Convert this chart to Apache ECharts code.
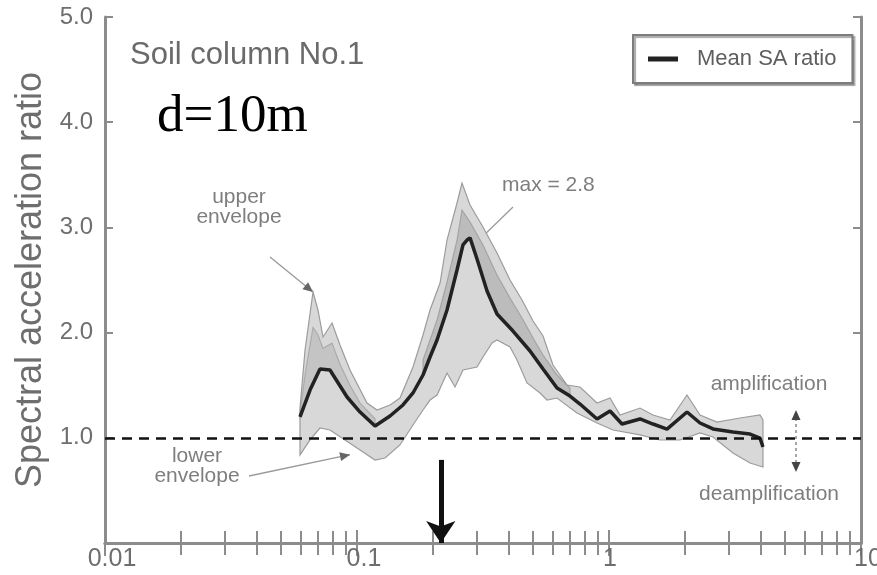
<!DOCTYPE html>
<html>
<head>
<meta charset="utf-8">
<script src="https://cdn.jsdelivr.net/npm/echarts@6/dist/echarts.min.js"></script>
<style>
html,body{margin:0;padding:0;background:#fff;}
#chart{width:877px;height:575px;}
</style>
</head>
<body>
<div id="chart"></div>
<script>
// ---- data (x on log axis, spectral acceleration ratio y) ----
const xTickLabels = ['0.01', '0.1', '1', '10'];
const yTickLabels = ['1.0', '2.0', '3.0', '4.0', '5.0'];

const meanSA = [
  [0.0594,1.198],[0.0651,1.454],[0.0713,1.654],[0.0781,1.645],[0.0913,1.388],
  [0.1028,1.245],[0.1179,1.112],[0.1352,1.207],[0.1522,1.312],[0.1668,1.426],
  [0.1828,1.597],[0.1949,1.768],[0.2078,1.930],[0.2276,2.215],[0.2494,2.595],
  [0.2634,2.833],[0.2733,2.880],[0.2809,2.900],[0.2994,2.700],[0.3281,2.395],
  [0.3594,2.177],[0.4159,2.015],[0.4860,1.825],[0.5473,1.654],[0.6219,1.473],
  [0.7003,1.397],[0.7672,1.321],[0.8964,1.179],[1.0093,1.255],[1.1262,1.131],
  [1.3274,1.179],[1.4950,1.131],[1.6990,1.083],[2.0394,1.245],[2.2971,1.141],
  [2.5866,1.084],[3.1053,1.055],[3.6270,1.036],[3.9733,0.998],[4.0836,0.913]
];

const upperEnv = [
  [0.0594,1.283],[0.0622,1.835],[0.0669,2.386],[0.0700,2.215],[0.0733,1.958],
  [0.0796,2.091],[0.0856,1.882],[0.0938,1.645],[0.1096,1.331],[0.1201,1.264],
  [0.1352,1.312],[0.1481,1.378],[0.1668,1.673],[0.1828,1.977],[0.1949,2.215],
  [0.2136,2.471],[0.2276,2.880],[0.2494,3.232],[0.2610,3.422],[0.2809,3.213],
  [0.3162,3.004],[0.3594,2.757],[0.4048,2.500],[0.4517,2.310],[0.4995,2.110],
  [0.5473,1.968],[0.5995,1.692],[0.6813,1.502],[0.7672,1.483],[0.8964,1.331],
  [1.0093,1.378],[1.1058,1.217],[1.3274,1.283],[1.4950,1.217],[1.7466,1.169],
  [2.0394,1.407],[2.2971,1.217],[2.6827,1.150],[3.3108,1.188],[3.9733,1.217],
  [4.0836,1.169]
];

const lowerEnv = [
  [0.0594,0.837],[0.0651,0.980],[0.0713,1.093],[0.0781,1.074],[0.0896,0.979],
  [0.1028,0.884],[0.1179,0.789],[0.1292,0.808],[0.1481,0.932],[0.1668,1.122],
  [0.1828,1.264],[0.1949,1.359],[0.2078,1.407],[0.2276,1.616],[0.2449,1.483],
  [0.2634,1.645],[0.2994,1.673],[0.3162,1.768],[0.3435,1.901],[0.3594,1.930],
  [0.4048,1.863],[0.4314,1.740],[0.4727,1.521],[0.5325,1.426],[0.5675,1.359],
  [0.6219,1.378],[0.7464,1.236],[0.8964,1.141],[1.0372,1.074],[1.3274,1.027],
  [1.5938,0.979],[1.9125,0.979],[2.2971,1.046],[2.5866,1.008],[3.1053,0.856],
  [3.6270,0.760],[4.0836,0.722]
];

// darker band (records crowding above the mean around the main peak)
const denseUpper = [
  [0.1828,1.740],[0.2078,2.120],[0.2276,2.481],[0.2494,2.880],[0.2610,3.165],
  [0.2809,3.051],[0.3162,2.833],[0.3594,2.548],[0.4048,2.329],[0.4517,2.139],
  [0.4995,1.949],[0.5473,1.787],[0.6219,1.597],[0.7003,1.473]
];
// darker band above the mean around the first peak
const denseUpper1 = [
  [0.0594,1.230],[0.0622,1.600],[0.0669,2.050],[0.0700,1.980],[0.0733,1.850],
  [0.0796,1.900],[0.0856,1.700],[0.0938,1.500],[0.1028,1.330],[0.1179,1.180]
];

const referenceLevel = 1.0;
const arrowPeriod = 0.215;

// ---- chart ----
const axisGray = '#8c8c8c';
const txtGray = '#6e6e6e';
const chart = echarts.init(document.getElementById('chart'), null, {renderer: 'canvas'});

const xLabelMap = {};
[0.01, 0.1, 1, 10].forEach((v, i) => { xLabelMap[String(v)] = xTickLabels[i]; });

function xAxisDef(pos, showLabel) {
  return {
    type: 'log', logBase: 10, min: 0.01, max: 10, position: pos,
    gridIndex: 0,
    axisLine: {show: true, lineStyle: {color: axisGray, width: 3}},
    axisTick: {show: true, inside: true, length: 13, lineStyle: {color: axisGray, width: 2}},
    minorTick: {show: true, splitNumber: 9, length: 12, lineStyle: {color: axisGray, width: 2}},
    splitLine: {show: false}, minorSplitLine: {show: false},
    axisLabel: {
      show: showLabel, margin: 4, color: txtGray, fontSize: 25, fontFamily: 'Liberation Sans',
      formatter: v => {
        const t = xLabelMap[String(v)];
        if (t === undefined) return '';
        return t === '1' ? '{n|' + t + '}' : '{s|' + t + '}';
      },
      rich: {
        s: {color: txtGray, fontSize: 25, fontFamily: 'Liberation Sans', padding: [0, 0, 0, 14]},
        n: {color: txtGray, fontSize: 25, fontFamily: 'Liberation Sans', padding: [0, 0, 0, 2]}
      }
    }
  };
}
function yAxisDef(pos, showLabel) {
  return {
    type: 'value', min: 0, max: 5, interval: 1, position: pos, gridIndex: 0,
    axisLine: {show: true, lineStyle: {color: axisGray, width: 3}},
    axisTick: {show: true, inside: true, length: 8, lineStyle: {color: axisGray, width: 2}},
    splitLine: {show: false},
    axisLabel: {
      show: showLabel, margin: 12, color: txtGray, fontSize: 24, fontFamily: 'Liberation Sans',
      formatter: v => (v >= 1 ? yTickLabels[Math.round(v) - 1] : '')
    },
    name: showLabel ? 'Spectral acceleration ratio' : '',
    nameLocation: 'middle', nameGap: 56,
    nameTextStyle: {color: txtGray, fontSize: 36, fontFamily: 'Liberation Sans'}
  };
}

function bandItem(top, bottom, fill, stroke) {
  return function (params, api) {
    if (params.dataIndex !== 0) return;
    const pts = top.map(p => api.coord(p))
      .concat(bottom.slice().reverse().map(p => api.coord(p)));
    return {type: 'polygon', shape: {points: pts}, style: {fill: fill, stroke: stroke, lineWidth: 1.2}};
  };
}

const option = {
  backgroundColor: '#fff',
  animation: false,
  grid: {left: 105, right: 16, top: 17, bottom: 32, containLabel: false, outerBoundsMode: 'none'},
  xAxis: [xAxisDef('bottom', true), xAxisDef('top', false)],
  yAxis: [yAxisDef('left', true), yAxisDef('right', false)],
  legend: {
    show: true, left: 633, top: 35,
    data: ['Mean SA ratio'],
    icon: 'rect', itemWidth: 30, itemHeight: 5,
    padding: [13, 16, 13, 15],
    backgroundColor: '#fff', borderColor: '#7d7d7d', borderWidth: 2,
    shadowColor: 'rgba(0,0,0,0.35)', shadowOffsetX: 2, shadowOffsetY: 2, shadowBlur: 1,
    textStyle: {color: '#5e5e5e', fontSize: 22, fontFamily: 'Liberation Sans', padding: [0, 0, 0, 14]},
    itemStyle: {color: '#222'}
  },
  series: [
    {
      type: 'custom', name: 'envelope', silent: true, z: 1,
      xAxisIndex: 0, yAxisIndex: 0, data: [[1, 1]],
      renderItem: bandItem(upperEnv, lowerEnv, '#d8d8d8', '#9c9c9c')
    },
    {
      type: 'custom', name: 'dense', silent: true, z: 2,
      xAxisIndex: 0, yAxisIndex: 0, data: [[1, 1]],
      renderItem: bandItem(denseUpper, meanSA.slice(10, 26), '#bcbcbc', 'rgba(140,140,140,0.6)')
    },
    {
      type: 'custom', name: 'dense1', silent: true, z: 2,
      xAxisIndex: 0, yAxisIndex: 0, data: [[1, 1]],
      renderItem: bandItem(denseUpper1, meanSA.slice(0, 7), '#c4c4c4', 'rgba(140,140,140,0.5)')
    },
    {
      type: 'line', name: 'Mean SA ratio', z: 3,
      xAxisIndex: 0, yAxisIndex: 0,
      data: meanSA, showSymbol: false, symbol: 'none',
      lineStyle: {color: '#222', width: 3.5}, itemStyle: {color: '#222'},
      markLine: {
        silent: true, animation: false,
        label: {show: false},
        data: [
          [
            {coord: [0.01, referenceLevel], symbol: 'none', lineStyle: {color: '#111', width: 2.5, type: [10, 7]}},
            {coord: [10, referenceLevel], symbol: 'none'}
          ],
          [
            {coord: [arrowPeriod, 0.79], symbol: 'none', lineStyle: {color: '#111', width: 5, type: 'solid'}},
            {coord: [arrowPeriod, 0.0], symbol: 'arrow', symbolSize: [22, 22]}
          ]
        ]
      }
    }
  ],
  graphic: [
    {type: 'text', left: 130, top: 40, style: {text: 'Soil column No.1', fill: '#6a6a6a', font: '31px "Liberation Sans"'}},
    {type: 'text', left: 157, top: 91, style: {text: 'd=10m', fill: '#000', font: '53px "Liberation Serif"'}}
  ]
};
chart.setOption(option);

// ---- annotations anchored to data ----
function px(p) { return chart.convertToPixel({gridIndex: 0}, p); }
function head(x1, y1, x2, y2, s, color) {
  const a = Math.atan2(y2 - y1, x2 - x1);
  const c = Math.cos(a), sn = Math.sin(a);
  return {
    type: 'polygon', silent: true,
    shape: {points: [[x2, y2],
      [x2 - s * c + s * 0.45 * sn, y2 - s * sn - s * 0.45 * c],
      [x2 - s * c - s * 0.45 * sn, y2 - s * sn + s * 0.45 * c]]},
    style: {fill: color}
  };
}
const annGray = '#7e7e7e';
const annFont = '21px "Liberation Sans"';
const upTip = px(upperEnv[2]);
const lowTip = px([0.0938, 0.84]);
const maxEnd = px([0.305, 2.88]);
const g = [];
g.push({type: 'text', x: 239, y: 207, style: {text: 'upper\nenvelope', fill: annGray, font: annFont, align: 'center', verticalAlign: 'middle', lineHeight: 20}});
g.push({type: 'line', shape: {x1: 270, y1: 257, x2: upTip[0], y2: upTip[1]}, style: {stroke: '#9a9a9a', lineWidth: 1.3}});
g.push(head(270, 257, upTip[0], upTip[1], 10, '#666'));
g.push({type: 'text', x: 502, y: 185, style: {text: 'max = 2.8', fill: annGray, font: annFont, align: 'left', verticalAlign: 'middle'}});
g.push({type: 'line', shape: {x1: 513, y1: 207, x2: maxEnd[0], y2: maxEnd[1]}, style: {stroke: '#9a9a9a', lineWidth: 1.3}});
g.push({type: 'text', x: 197, y: 466, style: {text: 'lower\nenvelope', fill: annGray, font: annFont, align: 'center', verticalAlign: 'middle', lineHeight: 20}});
g.push({type: 'line', shape: {x1: 249, y1: 476, x2: lowTip[0], y2: lowTip[1]}, style: {stroke: '#9a9a9a', lineWidth: 1.3}});
g.push(head(249, 476, lowTip[0], lowTip[1], 10, '#666'));
g.push({type: 'text', x: 769, y: 384, style: {text: 'amplification', fill: annGray, font: annFont, align: 'center', verticalAlign: 'middle'}});
g.push({type: 'text', x: 769, y: 494, style: {text: 'deamplification', fill: annGray, font: annFont, align: 'center', verticalAlign: 'middle'}});
g.push({type: 'line', shape: {x1: 796, y1: 418, x2: 796, y2: 464}, style: {stroke: '#777', lineWidth: 1.3, lineDash: [3, 3]}});
g.push(head(796, 430, 796, 410, 10, '#444'));
g.push(head(796, 450, 796, 472, 10, '#444'));
chart.setOption({graphic: option.graphic.concat(g)}, {replaceMerge: ['graphic']});
</script>
</body>
</html>
